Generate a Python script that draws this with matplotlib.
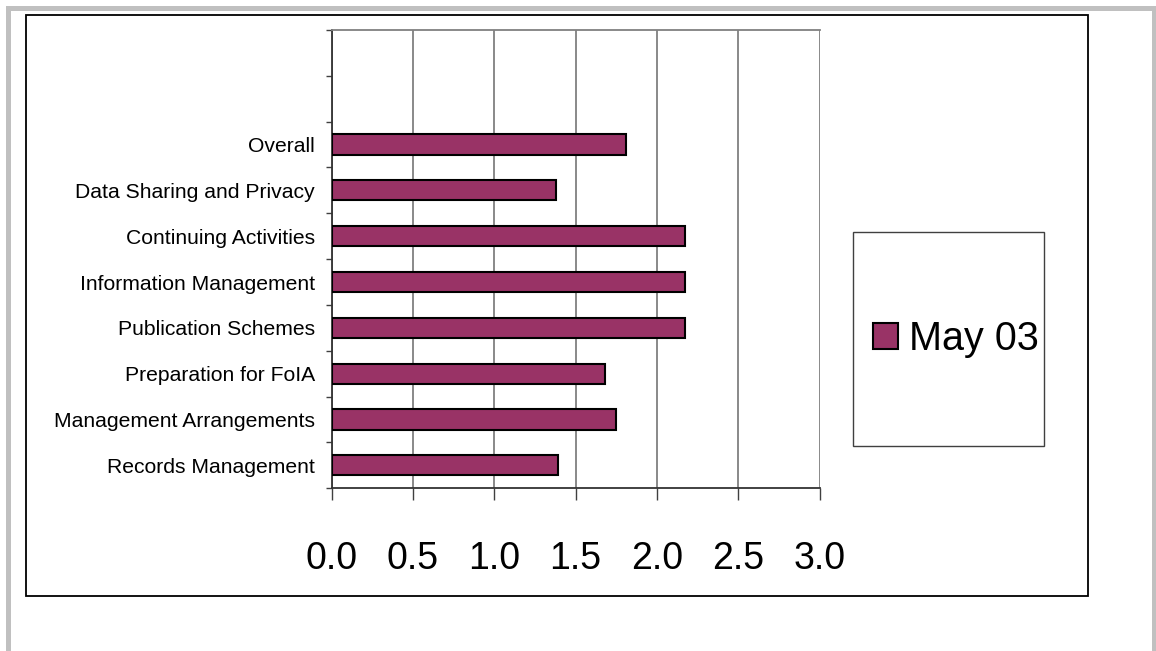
import matplotlib
matplotlib.use("Agg")
import matplotlib.pyplot as plt
from matplotlib.patches import Rectangle, Patch
import numpy as np

categories = ["Records Management", "Management Arrangements", "Preparation for FoIA",
              "Publication Schemes", "Information Management", "Continuing Activities",
              "Data Sharing and Privacy", "Overall"]
values = [1.39, 1.75, 1.68, 2.17, 2.17, 2.17, 1.38, 1.81]
series_name = "May 03"
xticks = [0.0, 0.5, 1.0, 1.5, 2.0, 2.5, 3.0]
xtick_labels = ["0.0", "0.5", "1.0", "1.5", "2.0", "2.5", "3.0"]
n_slots = 10  # 8 categories + 2 empty slots at top

plt.rcParams['font.family'] = ['Liberation Sans', 'DejaVu Sans']

W, H = 1156, 651
fig = plt.figure(figsize=(W / 100, H / 100), dpi=100)
fig.patch.set_facecolor("white")

def fx(px):
    return px / W

def fy(py):
    return 1 - py / H

# outer gray frame
fig.add_artist(Rectangle((fx(7.5), fy(670)), fx(1154) - fx(7.5), fy(7.5) - fy(670),
                         transform=fig.transFigure, fill=False, edgecolor="#c0c0c0",
                         linewidth=3.6, clip_on=False))
# chart area border
fig.add_artist(Rectangle((fx(26), fy(595.5)), fx(1088) - fx(26), fy(15) - fy(595.5),
                         transform=fig.transFigure, fill=False, edgecolor="#000000",
                         linewidth=1.3))

left, right, top, bottom = 331.7, 819.5, 30, 488.3
ax = fig.add_axes([fx(left), fy(bottom), fx(right) - fx(left), fy(top) - fy(bottom)])

y = np.arange(len(categories))
ax.barh(y, values, height=0.44, color="#993366", edgecolor="#000000", linewidth=1.5, zorder=3)

ax.set_xlim(0, 3.0)
ax.set_ylim(-0.5, n_slots - 0.5)

ax.set_xticks(xticks)
ax.set_xticklabels(xtick_labels, fontsize=27)
ax.tick_params(axis="x", direction="out", length=8.6, width=1.0, color="#404040", pad=29)
ax.xaxis.grid(True, color="#808080", linewidth=1.3, zorder=0)

ax.set_yticks(np.arange(-0.5, n_slots, 1.0))
ax.set_yticklabels([])
ax.set_yticks(y, minor=True)
ax.set_yticklabels(categories, minor=True, fontsize=15.2)
ax.tick_params(axis="y", which="major", direction="out", length=4.3, width=1.0, color="#404040")
ax.tick_params(axis="y", which="minor", length=0, pad=12)

for side in ["left", "bottom"]:
    ax.spines[side].set_color("#333333")
    ax.spines[side].set_linewidth(1.3)
ax.spines["top"].set_color("#808080")
ax.spines["top"].set_linewidth(1.3)
ax.spines["right"].set_visible(False)

# legend frame
fig.add_artist(Rectangle((fx(853.3), fy(446)), fx(1043.7) - fx(853.3), fy(231.7) - fy(446),
                         transform=fig.transFigure, fill=False, edgecolor="#404040",
                         linewidth=1.0))
handle = Patch(facecolor="#993366", edgecolor="#000000", linewidth=1.5)
fig.legend([handle], [series_name], loc="center", bbox_to_anchor=(fx(956), fy(339)),
           frameon=False, fontsize=28.5, handlelength=0.65, handleheight=0.65,
           handletextpad=0.28, borderpad=0, borderaxespad=0)

fig.savefig("out.png", dpi=100, facecolor="white")
